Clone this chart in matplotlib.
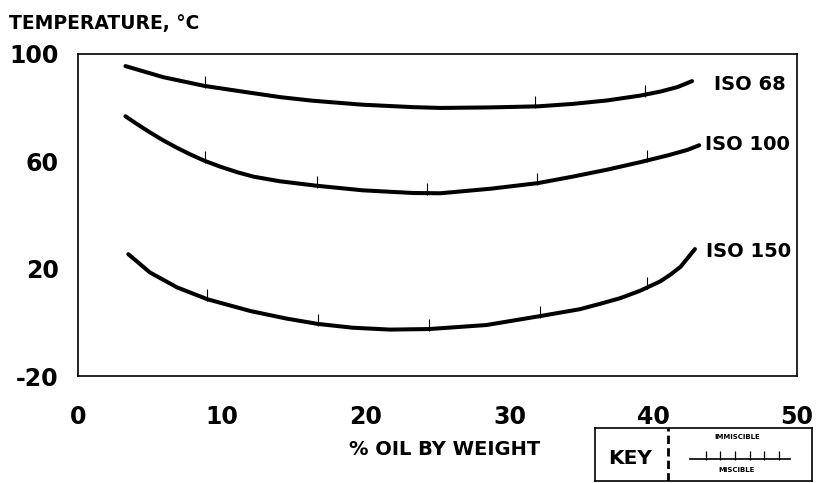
import matplotlib

matplotlib.use("Agg")
import matplotlib.pyplot as plt  # noqa: E402
import numpy as np  # noqa: E402

# miscibility curves (% oil by weight, temperature degC)
oil_68 = [3.3, 5.9, 8.8, 11.8, 14.1, 16.3, 19.8, 23.3, 25.2, 28.7, 32.0,
          34.4, 36.8, 39.1, 40.5, 41.7, 42.7]
temp_68 = [95.5, 91.4, 88.1, 85.7, 83.9, 82.6, 81.1, 80.2, 79.9, 80.1, 80.5,
           81.4, 82.7, 84.5, 86.0, 87.7, 89.9]

oil_100 = [3.3, 4.1, 5.0, 5.9, 6.9, 7.8, 8.8, 9.9, 11.1, 12.2, 14.0, 16.6,
           19.8, 23.3, 25.2, 28.7, 32.0, 34.4, 36.8, 39.1, 41.0, 42.4, 43.2]
temp_100 = [76.8, 73.9, 70.8, 67.9, 65.0, 62.6, 60.2, 58.0, 55.9, 54.3, 52.6, 50.9,
            49.2, 48.2, 48.1, 49.8, 51.9, 54.3, 56.9, 59.7, 62.2, 64.3, 66.0]

oil_150 = [3.5, 5.0, 6.9, 9.0, 12.0, 14.5, 16.7, 19.1, 21.7, 24.4, 28.4, 32.1,
           33.5, 34.9, 36.3, 37.7, 39.1, 40.5, 41.2, 41.9, 42.4, 42.9]
temp_150 = [25.4, 18.6, 13.0, 8.6, 4.2, 1.4, -0.6, -2.0, -2.7, -2.5, -1.0, 2.3,
            3.6, 4.9, 6.9, 9.0, 11.8, 15.3, 17.8, 20.7, 24.0, 27.3]

# small upward marks on each curve (immiscible side)
marks_68 = [8.8, 31.8, 39.4]
marks_100 = [8.8, 16.6, 24.3, 31.9, 39.6]
marks_150 = [9.0, 16.7, 24.4, 32.1, 39.6]

curve_names = ["ISO 68", "ISO 100", "ISO 150"]
name_pos = [(44.2, 88.7), (43.6, 66.3), (43.7, 26.4)]

x_ticks = [0, 10, 20, 30, 40, 50]
y_ticks = [-20, 20, 60, 100]

plt.rcParams["font.family"] = ["DejaVu Sans"]
plt.rcParams["font.weight"] = "bold"
plt.rcParams["axes.unicode_minus"] = False

fig = plt.figure(figsize=(8.21, 4.83), dpi=100)
ax = fig.add_axes([0.095, 0.2215, 0.8758, 0.6667])

tick_marker = [(0, -0.15), (0, 1)]
curves = [(oil_68, temp_68, marks_68), (oil_100, temp_100, marks_100),
          (oil_150, temp_150, marks_150)]
for (xs, ys, marks), name, (lx, ly) in zip(curves, curve_names, name_pos):
    ax.plot(xs, ys, color="black", lw=2.9, solid_capstyle="round", solid_joinstyle="round")
    my = np.interp(marks, xs, ys)
    ax.plot(marks, my, ls="none", marker=tick_marker, ms=15, mew=0.8, color="black")
    ax.text(lx, ly, name, fontsize=14, fontweight="bold", ha="left", va="center")

ax.set_xlim(0, 50)
ax.set_ylim(-20, 100)
ax.set_xticks(x_ticks)
ax.set_yticks(y_ticks)
ax.tick_params(length=0, labelsize=17)
ax.tick_params(axis="x", pad=21)
ax.tick_params(axis="y", pad=14)
for s in ax.spines.values():
    s.set_linewidth(1.2)

ax.set_xlabel("% OIL BY WEIGHT", fontsize=14, fontweight="bold", va="top")
ax.xaxis.set_label_coords(0.51, -0.20)
fig.text(9 / 821, 1 - 23 / 483, "TEMPERATURE, °C", fontsize=13.5, fontweight="bold",
         ha="left", va="center")

# key box in the lower right corner
kax = fig.add_axes([595 / 821, 2 / 483, 217 / 821, 53 / 483])
kax.set_xlim(0, 1)
kax.set_ylim(0, 1)
kax.set_xticks([])
kax.set_yticks([])
for s in kax.spines.values():
    s.set_linewidth(1.2)
kax.text(0.161, 0.43, "KEY", fontsize=14.5, fontweight="bold", ha="center", va="center")
kax.plot([0.336, 0.336], [0, 1], color="black", lw=2, ls=(0, (3, 1.5)))
kax.plot([0.438, 0.899], [0.415, 0.415], color="black", lw=1.2)
kax.plot(np.linspace(0.51, 0.848, 6), [0.415] * 6, ls="none", marker=tick_marker,
         ms=11, mew=0.9, color="black")
kax.text(0.654, 0.83, "IMMISCIBLE", fontsize=5, fontweight="bold", ha="center", va="center")
kax.text(0.654, 0.21, "MISCIBLE", fontsize=5, fontweight="bold", ha="center", va="center")

fig.savefig("out.png", dpi=100)
